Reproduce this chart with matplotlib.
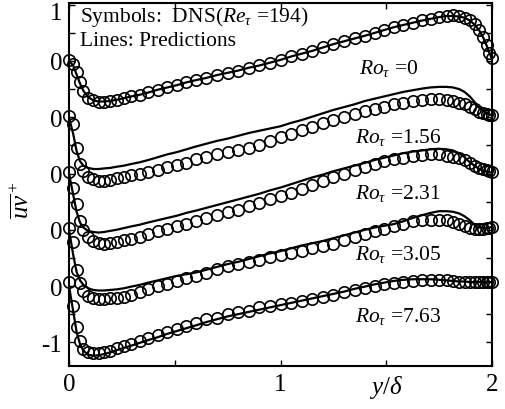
import matplotlib
matplotlib.use("Agg")
import matplotlib.pyplot as plt
from matplotlib.transforms import ScaledTranslation

plt.rcParams['font.family'] = ['Liberation Serif', 'DejaVu Serif']
plt.rcParams['mathtext.fontset'] = 'custom'
plt.rcParams['mathtext.rm'] = 'Liberation Serif'
plt.rcParams['mathtext.it'] = 'Liberation Serif:italic'

# wall-normal positions y/delta of the DNS symbols (shared by all cases)
y_d = [0.0, 0.02, 0.036, 0.052, 0.068, 0.09, 0.115, 0.14, 0.165, 0.195,
       0.225, 0.26, 0.295, 0.335, 0.375, 0.42, 0.465, 0.51, 0.555, 0.6,
       0.65, 0.7, 0.75, 0.8, 0.85, 0.9, 0.95, 1.0, 1.05, 1.1,
       1.15, 1.2, 1.25, 1.3, 1.35, 1.4, 1.445, 1.49, 1.535, 1.58,
       1.625, 1.67, 1.71, 1.75, 1.785, 1.815, 1.845, 1.87, 1.895, 1.92,
       1.94, 1.958, 1.974, 1.988, 2.0]

ro_labels = ['0', '1.56', '2.31', '3.05', '7.63']
offsets = [4, 3, 2, 1, 0]

# DNS, uv+
dns_ro0 = [0.02, -0.05, -0.20, -0.38, -0.53, -0.65, -0.70, -0.73, -0.73, -0.71,
           -0.69, -0.66, -0.63, -0.60, -0.56, -0.51, -0.47, -0.43, -0.38, -0.34,
           -0.30, -0.25, -0.21, -0.17, -0.12, -0.08, -0.03, 0.02, 0.08, 0.13,
           0.18, 0.24, 0.30, 0.35, 0.40, 0.45, 0.50, 0.55, 0.60, 0.64,
           0.68, 0.72, 0.75, 0.78, 0.80, 0.81, 0.80, 0.77, 0.73, 0.65,
           0.55, 0.42, 0.28, 0.15, 0.06]
dns_ro1 = [0.02, -0.12, -0.54, -0.83, -0.96, -1.06, -1.10, -1.13, -1.13, -1.11,
           -1.08, -1.06, -1.03, -1.01, -0.97, -0.93, -0.89, -0.85, -0.81, -0.75,
           -0.70, -0.66, -0.62, -0.58, -0.54, -0.49, -0.42, -0.35, -0.29, -0.23,
           -0.18, -0.11, -0.05, 0.01, 0.06, 0.11, 0.14, 0.19, 0.23, 0.26,
           0.29, 0.31, 0.32, 0.32, 0.31, 0.29, 0.26, 0.23, 0.19, 0.14,
           0.10, 0.07, 0.05, 0.04, 0.04]
dns_ro2 = [0.02, -0.25, -0.55, -0.85, -1.00, -1.12, -1.20, -1.24, -1.25, -1.24,
           -1.22, -1.19, -1.16, -1.12, -1.07, -1.02, -0.98, -0.93, -0.89, -0.84,
           -0.79, -0.74, -0.69, -0.64, -0.58, -0.52, -0.46, -0.40, -0.34, -0.27,
           -0.20, -0.13, -0.07, -0.01, 0.06, 0.12, 0.17, 0.23, 0.26, 0.28,
           0.31, 0.33, 0.34, 0.34, 0.32, 0.30, 0.27, 0.24, 0.18, 0.13,
           0.10, 0.08, 0.06, 0.04, 0.03]
dns_ro3 = [0.04, -0.21, -0.71, -0.95, -1.08, -1.17, -1.21, -1.23, -1.23, -1.22,
           -1.21, -1.19, -1.16, -1.11, -1.06, -1.00, -0.96, -0.91, -0.86, -0.82,
           -0.76, -0.69, -0.65, -0.61, -0.57, -0.53, -0.49, -0.44, -0.41, -0.37,
           -0.33, -0.29, -0.25, -0.18, -0.13, -0.07, -0.03, 0.02, 0.07, 0.11,
           0.15, 0.17, 0.18, 0.18, 0.17, 0.14, 0.11, 0.07, 0.04, 0.02,
           0.01, 0.02, 0.03, 0.04, 0.05]
dns_ro4 = [0.07, -0.35, -0.72, -0.97, -1.12, -1.18, -1.19, -1.19, -1.18, -1.15,
           -1.11, -1.07, -1.03, -0.97, -0.93, -0.87, -0.81, -0.76, -0.71, -0.65,
           -0.59, -0.56, -0.50, -0.47, -0.44, -0.38, -0.35, -0.32, -0.30, -0.27,
           -0.23, -0.19, -0.16, -0.11, -0.07, -0.03, 0.00, 0.04, 0.06, 0.08,
           0.09, 0.11, 0.11, 0.11, 0.10, 0.09, 0.08, 0.08, 0.07, 0.07,
           0.07, 0.07, 0.07, 0.07, 0.07]

# model predictions, uv+
pred_ro0 = [0.00, -0.08, -0.24, -0.40, -0.53, -0.64, -0.70, -0.72, -0.72, -0.71,
            -0.69, -0.66, -0.63, -0.60, -0.56, -0.51, -0.47, -0.43, -0.38, -0.34,
            -0.30, -0.25, -0.21, -0.17, -0.12, -0.08, -0.03, 0.02, 0.08, 0.13,
            0.18, 0.24, 0.30, 0.35, 0.40, 0.45, 0.50, 0.55, 0.60, 0.64,
            0.68, 0.72, 0.75, 0.78, 0.80, 0.80, 0.79, 0.77, 0.72, 0.64,
            0.54, 0.42, 0.28, 0.14, 0.04]
pred_ro1 = [0.00, -0.30, -0.60, -0.78, -0.86, -0.90, -0.92, -0.92, -0.91, -0.90,
            -0.88, -0.86, -0.83, -0.80, -0.76, -0.71, -0.66, -0.62, -0.57, -0.52,
            -0.47, -0.42, -0.38, -0.33, -0.28, -0.24, -0.20, -0.16, -0.10, -0.05,
            0.01, 0.07, 0.13, 0.18, 0.23, 0.29, 0.33, 0.37, 0.41, 0.45,
            0.48, 0.51, 0.53, 0.54, 0.54, 0.53, 0.50, 0.45, 0.37, 0.26,
            0.17, 0.11, 0.07, 0.05, 0.04]
pred_ro2 = [0.00, -0.38, -0.68, -0.87, -0.96, -1.02, -1.04, -1.05, -1.04, -1.02,
            -1.00, -0.97, -0.94, -0.91, -0.87, -0.83, -0.79, -0.75, -0.70, -0.66,
            -0.61, -0.56, -0.51, -0.46, -0.41, -0.36, -0.30, -0.25, -0.19, -0.13,
            -0.07, -0.02, 0.04, 0.09, 0.14, 0.19, 0.24, 0.28, 0.32, 0.36,
            0.39, 0.41, 0.43, 0.44, 0.43, 0.41, 0.36, 0.29, 0.20, 0.13,
            0.08, 0.05, 0.03, 0.02, 0.02]
pred_ro3 = [0.00, -0.45, -0.75, -0.90, -0.98, -1.04, -1.07, -1.08, -1.08, -1.07,
            -1.06, -1.04, -1.01, -0.98, -0.94, -0.90, -0.86, -0.82, -0.79, -0.76,
            -0.71, -0.66, -0.61, -0.57, -0.52, -0.47, -0.42, -0.38, -0.33, -0.28,
            -0.24, -0.20, -0.15, -0.10, -0.05, 0.00, 0.04, 0.07, 0.10, 0.15,
            0.21, 0.26, 0.30, 0.33, 0.33, 0.32, 0.29, 0.24, 0.17, 0.08,
            0.04, 0.03, 0.03, 0.04, 0.05]
pred_ro4 = [0.00, -0.45, -0.82, -1.03, -1.15, -1.22, -1.24, -1.23, -1.21, -1.18,
            -1.14, -1.10, -1.06, -1.01, -0.96, -0.91, -0.85, -0.80, -0.75, -0.70,
            -0.64, -0.59, -0.54, -0.50, -0.46, -0.42, -0.38, -0.34, -0.30, -0.26,
            -0.22, -0.18, -0.14, -0.10, -0.05, -0.01, 0.03, 0.06, 0.09, 0.11,
            0.12, 0.12, 0.12, 0.11, 0.10, 0.09, 0.08, 0.08, 0.07, 0.07,
            0.07, 0.07, 0.07, 0.07, 0.07]

dns_all = [dns_ro0, dns_ro1, dns_ro2, dns_ro3, dns_ro4]
pred_all = [pred_ro0, pred_ro1, pred_ro2, pred_ro3, pred_ro4]

fig = plt.figure(figsize=(5.05, 4.10), dpi=100)
ax = fig.add_axes([69/505, 43/410, 423/505, 363/410])

for dns, pred, off in zip(dns_all, pred_all, offsets):
    ax.plot(y_d, [v + off for v in pred], color='k', lw=1.6, zorder=2)
    ax.plot(y_d, [v + off for v in dns], 'o', mfc='none', mec='k',
            ms=8.2, mew=1.2, clip_on=False, zorder=3)

# case labels (x, y in data units)
label_pos = [(1.37, 3.89), (1.35, 2.65), (1.35, 1.67), (1.35, 0.57), (1.35, -0.53)]
for lab, (lx, ly) in zip(ro_labels, label_pos):
    ax.text(lx, ly, r'$Ro_\tau$ =' + lab, fontsize=15.5, ha='left', va='center')

ax.text(0.05, 4.80, r'Symbols:  DNS($Re_\tau$ =194)', fontsize=15.5, ha='left', va='center')
ax.text(0.05, 4.36, 'Lines: Predictions', fontsize=15.5, ha='left', va='center')

ax.set_xlim(0, 2)
ax.set_ylim(-1.422, 5.031)
ax.set_xticks([0, 0.5, 1, 1.5, 2])
ax.set_xticklabels(['0', '', '1', '', '2'])
ax.set_yticks([-1, -0.5, 0, 0.5, 1, 1.5, 2, 2.5, 3, 3.5, 4, 4.5, 5])
ax.set_yticklabels(['-1', '', '0', '', '0', '', '0', '', '0', '', '0', '', '1'])
ax.tick_params(direction='in', top=True, right=True, length=4, width=1.0,
               labelsize=18, pad=5)
for s in ax.spines.values():
    s.set_linewidth(1.5)

# nudge the top "1" down so it stays inside the figure
top_tick = ax.yaxis.get_major_ticks()[-1]
top_tick.label1.set_transform(top_tick.label1.get_transform()
                              + ScaledTranslation(0, -4/72, fig.dpi_scale_trans))

ax.set_xlabel(r'$y/\delta$', fontsize=18)
ax.xaxis.set_label_coords(0.75, -0.018)
ax.xaxis.label.set_va('top')
fig.text(22/505, 1 - 200/410, r'$\overline{uv}^+$', fontsize=18, rotation=90,
         ha='center', va='center')

fig.savefig('out.png', dpi=100)
